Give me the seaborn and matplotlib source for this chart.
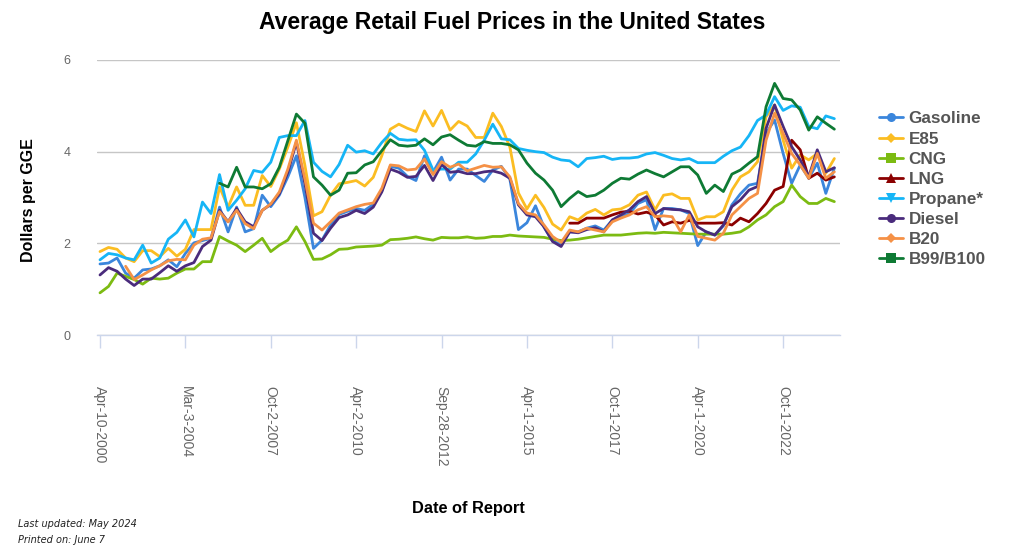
import numpy as np
import pandas as pd
import matplotlib
matplotlib.use("Agg")
import matplotlib.pyplot as plt
from matplotlib.lines import Line2D
import seaborn as sns

nan = np.nan

dates = ["Apr-10-2000", "Mar-3-2004", "Oct-2-2007", "Apr-2-2010", "Sep-28-2012",
         "Apr-1-2015", "Oct-1-2017", "Apr-1-2020", "Oct-1-2022"]
n_points = 87
tick_every = 10

gasoline = [1.55, 1.57, 1.68, 1.35, 1.24, 1.42, 1.44, 1.51, 1.64, 1.49, 1.78, 2.01, 2.06, 2.11, 2.79,
            2.25, 2.79, 2.25, 2.32, 3.05, 2.80, 3.05, 3.45, 3.91, 3.00, 1.89, 2.07, 2.40, 2.63, 2.70,
            2.76, 2.72, 2.85, 3.14, 3.68, 3.64, 3.46, 3.37, 3.91, 3.55, 3.88, 3.38, 3.62, 3.62, 3.48,
            3.35, 3.60, 3.68, 3.40, 2.30, 2.45, 2.82, 2.35, 2.05, 1.97, 2.25, 2.25, 2.33, 2.38, 2.29,
            2.51, 2.58, 2.65, 2.87, 2.95, 2.30, 2.76, 2.76, 2.73, 2.65, 1.95, 2.25, 2.18, 2.38, 2.84,
            3.08, 3.27, 3.31, 4.40, 4.69, 3.96, 3.31, 3.71, 3.42, 3.75, 3.09, 3.64]
e85 = [1.82, 1.91, 1.87, 1.68, 1.60, 1.84, 1.84, 1.71, 1.89, 1.72, 1.87, 2.30, 2.30, 2.30, 3.23,
       2.79, 3.23, 2.83, 2.83, 3.48, 3.24, 3.62, 4.10, 4.63, 3.70, 2.60, 2.69, 3.05, 3.30, 3.33,
       3.37, 3.25, 3.44, 3.91, 4.49, 4.60, 4.51, 4.44, 4.89, 4.56, 4.90, 4.47, 4.66, 4.56, 4.31,
       4.31, 4.84, 4.55, 4.10, 3.10, 2.75, 3.05, 2.78, 2.42, 2.29, 2.58, 2.51, 2.66, 2.74, 2.62,
       2.73, 2.75, 2.84, 3.05, 3.12, 2.73, 3.05, 3.08, 2.98, 2.98, 2.51, 2.58, 2.58, 2.69, 3.16,
       3.45, 3.56, 3.78, 4.76, 5.02, 4.25, 3.64, 3.93, 3.82, 3.96, 3.53, 3.85]
cng = [0.92, 1.06, 1.35, 1.28, 1.21, 1.11, 1.24, 1.22, 1.24, 1.35, 1.44, 1.44, 1.60, 1.60, 2.15,
       2.05, 1.96, 1.82, 1.96, 2.11, 1.82, 1.96, 2.07, 2.36, 2.04, 1.65, 1.66, 1.75, 1.87, 1.88,
       1.92, 1.93, 1.94, 1.96, 2.08, 2.09, 2.11, 2.14, 2.10, 2.07, 2.13, 2.12, 2.12, 2.14, 2.11,
       2.12, 2.15, 2.15, 2.18, 2.16, 2.15, 2.14, 2.13, 2.09, 2.06, 2.07, 2.09, 2.12, 2.15, 2.18,
       2.18, 2.18, 2.20, 2.22, 2.23, 2.22, 2.24, 2.23, 2.22, 2.21, 2.20, 2.20, 2.20, 2.20, 2.22,
       2.25, 2.36, 2.51, 2.62, 2.80, 2.91, 3.27, 3.02, 2.87, 2.87, 2.98, 2.91]
lng = [nan] * 55 + [2.44, 2.44, 2.55, 2.55, 2.55, 2.62, 2.68, 2.70, 2.64,
                    2.68, 2.62, 2.40, 2.47, 2.44, 2.50, 2.44, 2.44, 2.44, 2.45, 2.40,
                    2.55, 2.47, 2.65, 2.87, 3.16, 3.24, 4.25, 4.04, 3.42, 3.53, 3.38, 3.45]
propane = [1.64, 1.78, 1.75, 1.68, 1.64, 1.96, 1.57, 1.68, 2.09, 2.24, 2.51, 2.14, 2.90, 2.65, 3.50,
           2.72, 2.94, 3.19, 3.59, 3.55, 3.77, 4.31, 4.35, 4.35, 4.68, 3.77, 3.57, 3.45, 3.72, 4.14,
           3.99, 4.02, 3.95, 4.20, 4.40, 4.27, 4.25, 4.26, 4.03, 3.60, 3.62, 3.62, 3.77, 3.77, 3.95,
           4.25, 4.60, 4.28, 4.26, 4.07, 4.03, 4.00, 3.98, 3.88, 3.82, 3.80, 3.67, 3.85, 3.87, 3.90,
           3.83, 3.86, 3.86, 3.88, 3.95, 3.98, 3.92, 3.85, 3.82, 3.85, 3.76, 3.76, 3.76, 3.90, 4.02,
           4.10, 4.35, 4.68, 4.80, 5.20, 4.90, 5.00, 4.97, 4.55, 4.50, 4.78, 4.72]
diesel = [1.31, 1.47, 1.39, 1.22, 1.08, 1.22, 1.22, 1.36, 1.51, 1.39, 1.51, 1.58, 1.93, 2.07, 2.72,
          2.47, 2.76, 2.47, 2.36, 2.72, 2.85, 3.08, 3.55, 4.21, 3.30, 2.22, 2.06, 2.33, 2.56, 2.62,
          2.72, 2.65, 2.79, 3.12, 3.62, 3.55, 3.44, 3.46, 3.70, 3.37, 3.72, 3.55, 3.57, 3.52, 3.52,
          3.56, 3.58, 3.53, 3.42, 2.84, 2.62, 2.58, 2.36, 2.04, 1.93, 2.25, 2.23, 2.30, 2.34, 2.25,
          2.51, 2.62, 2.73, 2.91, 3.02, 2.65, 2.76, 2.74, 2.73, 2.69, 2.36, 2.25, 2.18, 2.40, 2.80,
          2.95, 3.16, 3.24, 4.51, 5.02, 4.55, 4.11, 3.82, 3.45, 4.04, 3.56, 3.65]
b20 = [nan, nan, nan, 1.50, 1.21, 1.31, 1.42, 1.51, 1.62, 1.65, 1.64, 1.96, 2.09, 2.12, 2.69,
       2.47, 2.72, 2.43, 2.32, 2.72, 2.86, 3.12, 3.62, 4.25, 3.40, 2.44, 2.29, 2.47, 2.66, 2.73,
       2.80, 2.85, 2.88, 3.20, 3.71, 3.69, 3.60, 3.62, 3.84, 3.50, 3.78, 3.66, 3.73, 3.58, 3.64,
       3.70, 3.66, 3.67, 3.45, 2.87, 2.66, 2.62, 2.40, 2.15, 2.02, 2.29, 2.25, 2.33, 2.29, 2.25,
       2.47, 2.55, 2.62, 2.73, 2.80, 2.58, 2.60, 2.58, 2.25, 2.62, 2.15, 2.11, 2.07, 2.22, 2.62,
       2.80, 2.98, 3.09, 4.25, 4.84, 4.40, 3.96, 3.71, 3.42, 3.96, 3.42, 3.56]
b99 = [nan] * 14 + [3.31,
       3.23, 3.66, 3.23, 3.23, 3.19, 3.30, 3.66, 4.24, 4.82, 4.62, 3.45, 3.27, 3.05, 3.16, 3.53,
       3.54, 3.71, 3.78, 4.02, 4.26, 4.14, 4.12, 4.14, 4.28, 4.15, 4.32, 4.37, 4.25, 4.14, 4.12,
       4.22, 4.18, 4.18, 4.15, 4.04, 3.75, 3.53, 3.38, 3.16, 2.80, 2.98, 3.13, 3.02, 3.05, 3.16,
       3.31, 3.42, 3.40, 3.51, 3.60, 3.52, 3.45, 3.56, 3.67, 3.67, 3.49, 3.09, 3.27, 3.13, 3.51,
       3.60, 3.75, 3.89, 4.98, 5.49, 5.16, 5.13, 4.91, 4.47, 4.76, 4.62, 4.49]

fuels = ["Gasoline", "E85", "CNG", "LNG", "Propane*", "Diesel", "B20", "B99/B100"]
series = [gasoline, e85, cng, lng, propane, diesel, b20, b99]
colors = ["#3b86dc", "#fbbd22", "#7cbb12", "#8b0000", "#16b5f6", "#4a2b7c", "#f59146", "#0e7a34"]
markers = ["o", "D", "s", "^", "v", "o", "D", "s"]

rows = []
for name, vals in zip(fuels, series):
    for i, v in enumerate(vals):
        rows.append({"idx": i, "price": v, "fuel": name})
df = pd.DataFrame(rows).dropna()

sns.set_theme(style="white")
plt.rcParams["font.family"] = ["Liberation Sans", "DejaVu Sans"]

fig = plt.figure(figsize=(10.24, 5.59), dpi=100)
W, H = 1024, 559
ax = fig.add_axes([97 / W, 1 - 335 / H, (840 - 97) / W, (335 - 60) / H])

sns.lineplot(data=df, x="idx", y="price", hue="fuel", hue_order=fuels,
             palette=dict(zip(fuels, colors)), linewidth=2.0, legend=False, ax=ax)

ax.set_ylim(0, 6)
ax.set_xlim(-0.35, 86.66)
ax.set_yticks([0, 2, 4, 6])
ax.set_yticklabels(["0", "2", "4", "6"], color="#666666", fontsize=9)
ax.yaxis.grid(True, color="#c6c6c6", linewidth=1.0)
ax.set_axisbelow(True)
for s in ["top", "right", "left"]:
    ax.spines[s].set_visible(False)
ax.spines["bottom"].set_color("#ccd6eb")
ax.spines["bottom"].set_linewidth(1.0)
ax.tick_params(axis="y", length=0, pad=19)

ax.set_xticks(list(range(0, n_points, tick_every))[:len(dates)])
ax.set_xticklabels(dates, rotation=270, color="#666666", fontsize=10, va="top", ha="center")
ax.tick_params(axis="x", length=9, width=1, color="#ccd6eb", direction="out", pad=28, bottom=True)
ax.set_xlabel("")
ax.set_ylabel("")

fig.text(512 / W, 1 - 22 / H, "Average Retail Fuel Prices in the United States",
         ha="center", va="center", fontsize=16.5, fontweight="bold", color="#000000")
fig.text(28 / W, 1 - 200 / H, "Dollars per GGE", rotation=90, ha="center", va="center",
         fontsize=11.5, fontweight="bold", color="#000000")
fig.text(468 / W, 1 - 508 / H, "Date of Report", ha="center", va="center",
         fontsize=11.8, fontweight="bold", color="#000000")
fig.text(18 / W, 1 - 524 / H, "Last updated: May 2024", ha="left", va="center",
         fontsize=7, style="italic", family="DejaVu Sans", color="#222222")
fig.text(18 / W, 1 - 540 / H, "Printed on: June 7", ha="left", va="center",
         fontsize=7, style="italic", family="DejaVu Sans", color="#222222")

handles = [Line2D([0], [0], color=c, lw=2, marker=m, markersize=6.5 if m != "D" else 5.5,
                  markeredgewidth=0) for c, m in zip(colors, markers)]
leg = fig.legend(handles, fuels, loc="upper left", bbox_to_anchor=(864 / W, 1 - 96 / H),
                 frameon=False, handlelength=1.4, handletextpad=0.3, labelspacing=0.3,
                 prop={"weight": "bold", "size": 12.3})
for t in leg.get_texts():
    t.set_color("#555555")

fig.savefig("out.png", dpi=100)
